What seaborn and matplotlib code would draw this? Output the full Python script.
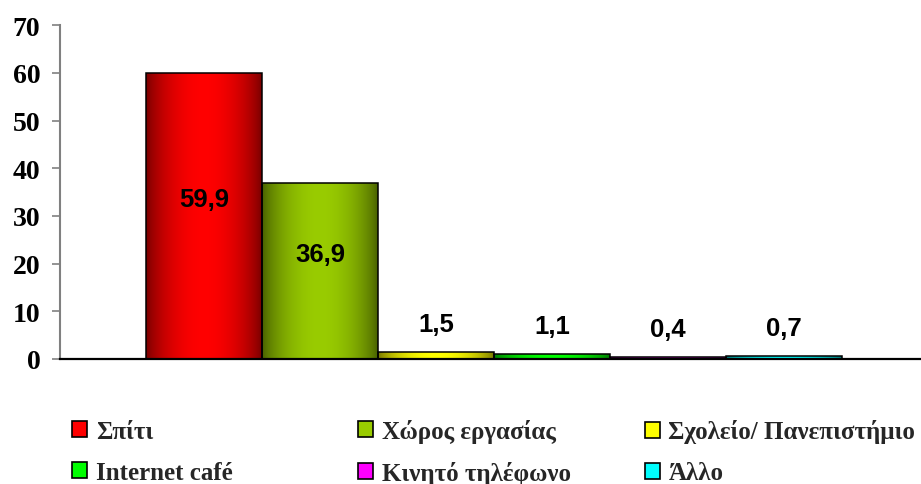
import numpy as np
import pandas as pd
import seaborn as sns
import matplotlib
matplotlib.use("Agg")
import matplotlib.pyplot as plt
from matplotlib.patches import Rectangle
from matplotlib.colors import to_rgb

# Place of internet access (%)
categories = ["Σπίτι", "Χώρος εργασίας", "Σχολείο/ Πανεπιστήμιο",
              "Internet café", "Κινητό τηλέφωνο", "Άλλο"]
values = [59.9, 36.9, 1.5, 1.1, 0.4, 0.7]
colors = ["#ff0000", "#99cc00", "#ffff00", "#00ff00", "#ff00ff", "#00ffff"]
yticks = [0, 10, 20, 30, 40, 50, 60, 70]

sns.set_theme(style="white")
plt.rcParams["font.family"] = ["Liberation Serif", "DejaVu Serif"]

fig = plt.figure(figsize=(9.21, 4.85), dpi=100)
ax = fig.add_axes([0.065, 0.258, 0.934, 0.688])

df = pd.DataFrame({"group": [""] * len(categories),
                   "location": categories,
                   "pct": values})
sns.barplot(data=df, x="group", y="pct", hue="location", hue_order=categories,
            palette=colors, width=0.809, dodge=True, edgecolor="black",
            linewidth=1.1, legend=False, ax=ax)

# Horizontal dark-light-dark shading inside each bar
t = np.linspace(0, 1, 256)
profile = np.sin(np.pi * t) ** 0.7
for cont, col, v in zip(ax.containers, colors, values):
    bar = cont[0]
    x0, w, h = bar.get_x(), bar.get_width(), bar.get_height()
    bright = np.array(to_rgb(col))
    dark = bright * 0.45
    img = dark[None, :] + (bright - dark)[None, :] * profile[:, None]
    im = ax.imshow(img[None, :, :], extent=[x0, x0 + w, 0, h], aspect="auto",
                   interpolation="bilinear", zorder=0.9)
    im.set_clip_path(bar)
    bar.set_facecolor("none")
    bar.set_zorder(1)
    cx = x0 + w / 2
    label = f"{v:.1f}".replace(".", ",")
    if v > 10:
        xy, dy = (cx, v / 2), 12
    else:
        xy, dy = (cx, v), 20
    ax.annotate(label, xy=xy, xytext=(0, dy), textcoords="offset points",
                ha="center", va="center", fontsize=18.5, fontweight="bold",
                family=["Liberation Sans", "DejaVu Sans"], color="black")

ax.set_xlim(-0.505, 0.495)
ax.set_ylim(0, 70)
ax.set_aspect("auto")
ax.set_yticks(yticks)
ax.set_yticklabels([str(y) for y in yticks], fontsize=20, fontweight="bold")
ax.set_xticks([])
ax.set_xlabel("")
ax.set_ylabel("")
ax.tick_params(axis="y", direction="out", length=6, width=1.2, color="#808080",
               left=True, pad=8, labelcolor="black")
for s in ("top", "right"):
    ax.spines[s].set_visible(False)
ax.spines["left"].set_color("#808080")
ax.spines["left"].set_linewidth(1.5)
ax.spines["bottom"].set_color("black")
ax.spines["bottom"].set_linewidth(1.6)

# Legend: three columns, two rows
col_x = [0.0785, 0.389, 0.700]
for i, xpos in enumerate(col_x):
    idx = [i, i + 3]
    handles = [Rectangle((0, 0), 1, 1, facecolor=colors[k], edgecolor="black",
                         linewidth=1.2) for k in idx]
    fig.legend(handles, [categories[k] for k in idx], loc="center left",
               bbox_to_anchor=(xpos, 0.066), frameon=False, ncol=1,
               prop={"family": ["Liberation Serif", "DejaVu Serif"],
                     "weight": "bold", "size": 18},
               borderpad=0, borderaxespad=0, handlelength=0.6, handleheight=0.6,
               handletextpad=0.35, labelspacing=0.72)

fig.savefig("out.png", dpi=100)
